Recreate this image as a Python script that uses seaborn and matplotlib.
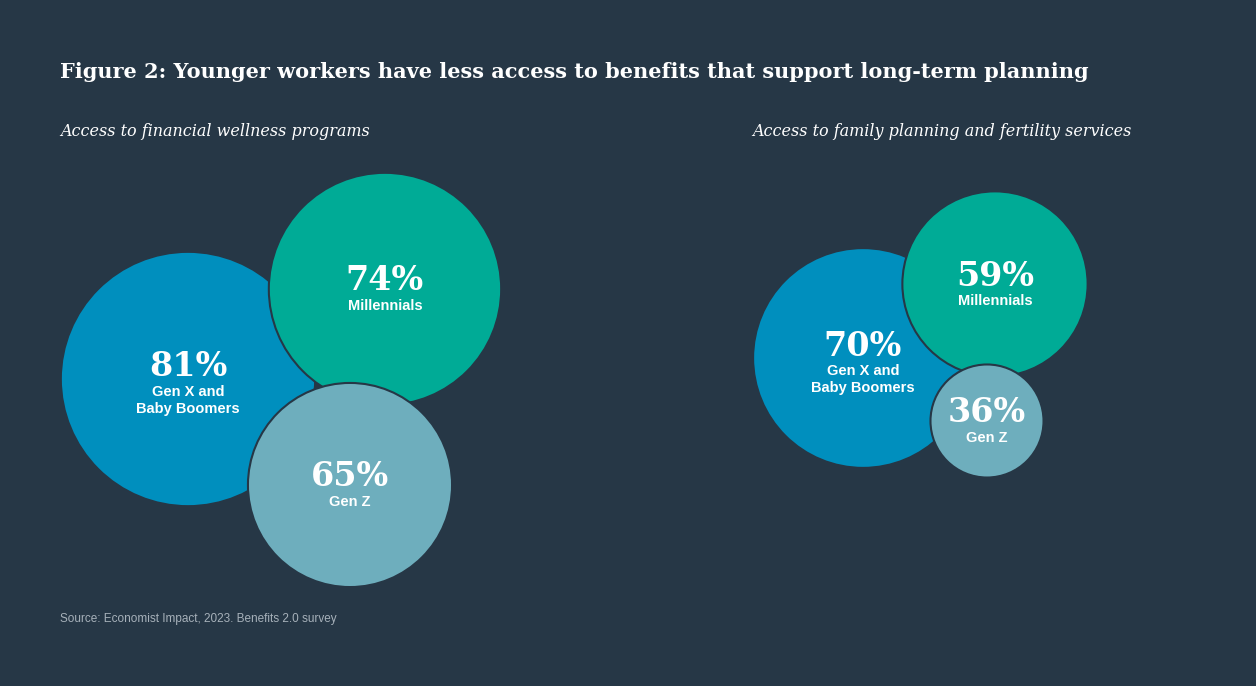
import matplotlib
matplotlib.use("Agg")
import matplotlib.pyplot as plt
from matplotlib.patches import Circle
import seaborn as sns

# data
groups = ["Gen X and\nBaby Boomers", "Millennials", "Gen Z"]
financial_wellness = [81, 74, 65]
family_planning = [70, 59, 36]
panel_titles = ["Access to financial wellness programs",
                "Access to family planning and fertility services"]

# layout (pixel centres of the bubbles)
left_centres = [(188, 379), (385, 289), (350, 485)]
right_centres = [(863, 358), (995, 284), (987, 421)]
px_per_point = 1.57

bg = "#263746"
colors = ["#008fbe", "#00ab96", "#6eaebd"]

sns.set_theme(style="white", rc={"figure.facecolor": bg, "axes.facecolor": bg})
fig = plt.figure(figsize=(12.56, 6.86), dpi=100)
ax = fig.add_axes([0, 0, 1, 1])
ax.set_xlim(0, 1256)
ax.set_ylim(686, 0)
ax.set_aspect("equal")
ax.axis("off")

serif = "DejaVu Serif"
sans = "Liberation Sans"


def bubbles(values, centres):
    for (x, y), v, c, name in zip(centres, values, colors, groups):
        r = v * px_per_point
        ax.add_patch(Circle((x, y), r, facecolor=c, edgecolor=bg, lw=1.5))
        dy = -12 if "\n" in name else -8
        ax.text(x, y + dy, f"{v}%", ha="center", va="center", color="white",
                fontsize=24, fontweight="bold", family=serif)
        ax.text(x, y + dy + 18, name, ha="center", va="top", color="white",
                fontsize=10.5, fontweight="bold", family=sans, linespacing=1.3)


bubbles(financial_wellness, left_centres)
bubbles(family_planning, right_centres)

ax.text(60, 72, "Figure 2: Younger workers have less access to benefits that support long-term planning",
        color="white", fontsize=15, fontweight="bold", family=serif, va="center")
ax.text(60, 132, panel_titles[0], color="white", fontsize=11.5, style="italic",
        family=serif, va="center")
ax.text(752, 132, panel_titles[1], color="white", fontsize=11.5, style="italic",
        family=serif, va="center")
ax.text(60, 619, "Source: Economist Impact, 2023. Benefits 2.0 survey",
        color="#a7b1ba", fontsize=8.5, family=sans, va="center")

fig.savefig("out.png", dpi=100, facecolor=bg)
